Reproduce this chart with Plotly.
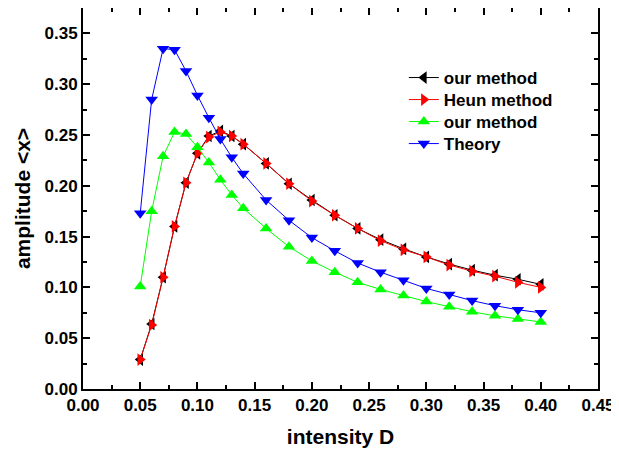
import plotly.graph_objects as go

D = [0.05, 0.06, 0.07, 0.08, 0.09, 0.10, 0.11, 0.12, 0.13, 0.14, 0.16, 0.18,
     0.20, 0.22, 0.24, 0.26, 0.28, 0.30, 0.32, 0.34, 0.36, 0.38, 0.40]

our_method_1 = [0.029, 0.064, 0.110, 0.160, 0.203, 0.232, 0.249, 0.254, 0.249, 0.241,
                0.222, 0.202, 0.186, 0.171, 0.158, 0.147, 0.138, 0.130, 0.123, 0.117,
                0.112, 0.108, 0.103]
heun_method = [0.029, 0.063, 0.110, 0.160, 0.203, 0.232, 0.248, 0.253, 0.249, 0.241,
               0.222, 0.202, 0.185, 0.171, 0.158, 0.146, 0.137, 0.130, 0.122, 0.116,
               0.111, 0.105, 0.100]
our_method_2 = [0.101, 0.175, 0.229, 0.253, 0.251, 0.238, 0.223, 0.206, 0.191, 0.178,
                0.158, 0.140, 0.126, 0.115, 0.105, 0.098, 0.092, 0.086, 0.081, 0.076,
                0.072, 0.069, 0.066]
theory = [0.173, 0.285, 0.335, 0.334, 0.313, 0.289, 0.267, 0.246, 0.228, 0.212,
          0.186, 0.166, 0.149, 0.136, 0.124, 0.115, 0.107, 0.099, 0.093, 0.087,
          0.082, 0.078, 0.075]

x_ticks = [0.00, 0.05, 0.10, 0.15, 0.20, 0.25, 0.30, 0.35, 0.40, 0.45]
y_ticks = [0.00, 0.05, 0.10, 0.15, 0.20, 0.25, 0.30, 0.35]

FONT = "Liberation Sans, Arial, sans-serif"

fig = go.Figure()
series = [
    ("our method", our_method_1, "black", "triangle-left", "legend"),
    ("Heun method", heun_method, "red", "triangle-right", "legend2"),
    ("our method", our_method_2, "#00ff00", "triangle-up", "legend3"),
    ("Theory", theory, "blue", "triangle-down", "legend4"),
]
for name, ys, col, sym, lg in series:
    fig.add_trace(go.Scatter(
        x=D, y=ys, mode="lines+markers", name="<b>%s</b>" % name,
        line=dict(color=col, width=1),
        marker=dict(symbol=sym, size=11, color=col, line=dict(width=0)),
        legend=lg,
    ))

axis_common = dict(
    showline=True, linecolor="black", linewidth=2, mirror="allticks",
    ticks="inside", ticklen=7, tickwidth=2, tickcolor="black",
    showgrid=False, zeroline=False, automargin=False,
    tickfont=dict(family=FONT, size=17, color="black"),
    minor=dict(ticks="inside", ticklen=4, tickwidth=1.5, tickcolor="black", showgrid=False),
)

fig.update_xaxes(
    range=[0, 0.45], tickvals=x_ticks, ticktext=["<b>%.2f</b>" % v for v in x_ticks],
    title=dict(text="<b>intensity D</b>", font=dict(family=FONT, size=21, color="black"), standoff=15),
    minor_tickvals=[0.025 + 0.05 * i for i in range(9)],
    **axis_common,
)
fig.update_yaxes(
    range=[0, 0.375], tickvals=y_ticks, ticktext=["<b>%.2f</b>" % v for v in y_ticks],
    title=dict(text="<b>amplitude &lt;x&gt;</b>", font=dict(family=FONT, size=21, color="black"), standoff=8),
    minor_tickvals=[0.025 + 0.05 * i for i in range(7)],
    **axis_common,
)

legend_style = dict(
    x=0.623, xanchor="left", yanchor="middle",
    bgcolor="rgba(0,0,0,0)", borderwidth=0,
    font=dict(family=FONT, size=17, color="black"),
    tracegroupgap=0, itemwidth=30,
)
legend_y = [0.8163, 0.7585, 0.7008, 0.6430]

fig.update_layout(
    width=611, height=451,
    margin=dict(l=75, r=21, t=0, b=70),
    paper_bgcolor="white", plot_bgcolor="white",
    showlegend=True,
    legend=dict(y=legend_y[0], **legend_style),
    legend2=dict(y=legend_y[1], **legend_style),
    legend3=dict(y=legend_y[2], **legend_style),
    legend4=dict(y=legend_y[3], **legend_style),
)

fig.write_html("out.html")
